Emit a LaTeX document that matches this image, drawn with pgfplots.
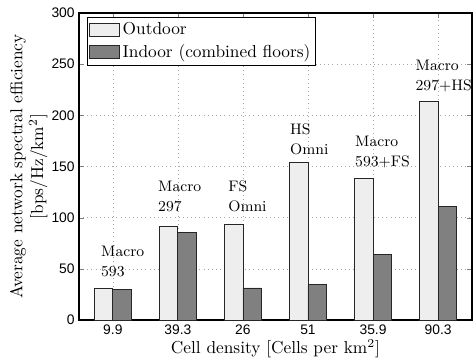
\documentclass[border=0pt]{standalone}
\usepackage{fontspec}
\usepackage{pgfplots}
\pgfplotsset{compat=1.18}
\newfontfamily\ticksans{Liberation Sans}
\definecolor{outc}{RGB}{238,238,238}
\definecolor{inc}{RGB}{128,128,128}
\begin{document}
\begin{tikzpicture}
\begin{axis}[
  scale only axis,
  width=227pt, height=177.5pt,
  ybar=0pt, bar width=0.285,
  xmin=-0.52, xmax=5.52,
  ymin=0, ymax=300,
  xtick={0,1,2,3,4,5},
  xticklabels={9.9,39.3,26,51,35.9,90.3},
  ytick={0,50,100,150,200,250,300},
  tick align=inside,
  major tick length=3pt,
  ticklabel style={font=\ticksans\fontsize{8}{9}\selectfont},
  /pgf/number format/assume math mode=true,
  xticklabel style={yshift=1pt},
  yticklabel style={xshift=1pt},
  grid=major,
  major grid style={dotted, gray!70, line width=0.4pt},
  axis line style={line width=0.9pt},
  xlabel={Cell density [Cells per km$^2$]},
  ylabel={Average network spectral efficiency\\\relax [bps/Hz/km$^2$]},
  ylabel style={align=center, yshift=-4.5pt},
  xlabel style={yshift=4pt},
  legend style={at={(0.02,0.987)}, anchor=north west, draw=black, line width=0.6pt,
    font=\fontsize{10}{10}\selectfont, inner sep=1pt, row sep=0pt,
    cells={anchor=west}},
  legend image code/.code={\draw[#1, line width=0.4pt] (0pt,-3.8pt) rectangle (17pt,3.8pt);},
  legend cell align=left,
  clip=false,
]
\addplot[fill=outc, draw=black!85, line width=0.5pt] coordinates {(0,31) (1,92) (2,93.5) (3,153.6) (4,138.6) (5,214)};
\addplot[fill=inc, draw=black!85, line width=0.5pt] coordinates {(0,30) (1,85.7) (2,31.5) (3,34.7) (4,64.6) (5,110.7)};
\legend{Outdoor, Indoor (combined floors)}
\tikzset{ann/.style={anchor=south west, inner sep=0pt, align=left, font=\fontsize{8.8}{11.6}\selectfont}}
\node[ann] at (axis cs:-0.185,41.9) {Macro\\593};
\node[ann] at (axis cs:0.692,105) {Macro\\297};
\node[ann] at (axis cs:1.77,105) {FS\\Omni};
\node[ann] at (axis cs:2.72,160.7) {HS\\Omni};
\node[ann] at (axis cs:3.72,148) {Macro\\593+FS};
\node[ann] at (axis cs:4.65,223) {Macro\\297+HS};
\end{axis}
\pgfresetboundingbox
\path (-45.66pt,-23.1pt) rectangle (228.2pt,185pt);
\end{tikzpicture}
\end{document}
